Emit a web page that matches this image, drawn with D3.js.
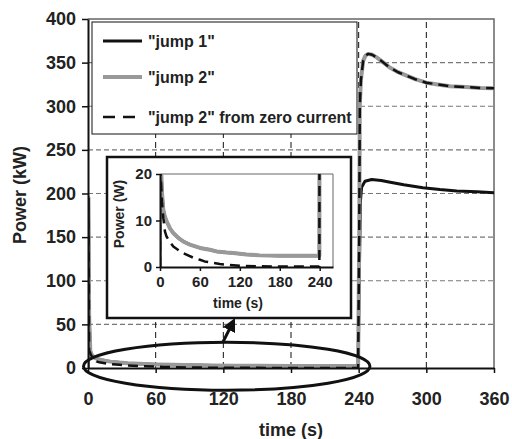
<!DOCTYPE html>
<html>
<head>
<meta charset="utf-8">
<script src="https://cdn.jsdelivr.net/npm/d3@7"></script>
<style>
  body { margin: 0; background: #fff; }
  svg text { font-family: "Liberation Sans", Arial, sans-serif; font-weight: bold; fill: #222; }
</style>
</head>
<body>
<svg id="chart" width="512" height="439"></svg>
<script>
// jump 2 (grey)
var j2Time = [0, 0.4, 1, 2, 3, 5, 7, 10, 15, 20, 28, 35, 45, 60, 75, 85, 100, 110, 130, 150, 180, 210, 239.5,
  240.5, 241, 242, 244, 246, 248.5, 252, 256, 262, 268, 275, 282.5, 290, 300, 310, 321, 335, 348, 360];
var j2Power = [0, 195, 60, 20, 16, 12.3, 11, 9.8, 8.3, 7.3, 6.2, 5.5, 4.8, 4.1, 3.7, 3.35, 3.1, 3.0, 2.7, 2.5, 2.4, 2.4, 2.4,
  150, 300, 330, 352, 358, 360, 359, 356, 350, 344, 339, 335, 331, 327, 325, 323, 322, 321, 320.5];

// jump 1 (black) - sits under jump 2 before 240 s
var j1Time = [0, 0.4, 1, 2, 3, 5, 7, 10, 15, 20, 28, 35, 45, 60, 75, 85, 100, 110, 130, 150, 180, 210, 239.5,
  240.5, 241.5, 242.6, 245.6, 251.5, 260, 268, 280, 297, 312, 327, 345, 360];
var j1Power = [0, 195, 60, 20, 16, 12.3, 11, 9.8, 8.3, 7.3, 6.2, 5.5, 4.8, 4.1, 3.7, 3.35, 3.1, 3.0, 2.7, 2.5, 2.4, 2.4, 2.4,
  100, 190, 207, 214, 216, 215, 213, 210, 206.5, 204.5, 203, 202, 201];

// "jump 2" from zero current (dashed)
var zcTime = [0, 0.4, 1, 3, 5, 7.5, 10, 15, 20, 28, 35, 50, 60, 67, 90, 120, 150, 180, 210, 239.5,
  240.5, 241, 242, 244, 246, 248.5, 252, 256, 262, 268, 275, 282.5, 290, 300, 310, 321, 335, 348, 360];
var zcPower = [0, 195, 20, 14, 10.5, 7.6, 6.5, 5.4, 4.4, 3.6, 3.0, 2.0, 1.56, 1.2, 0.64, 0.25, 0.15, 0.12, 0.1, 0.1,
  150, 300, 330, 352, 358, 360, 359, 356, 350, 344, 339, 335, 331, 327, 325, 323, 322, 321, 320.5];

var xTicks = [0, 60, 120, 180, 240, 300, 360];
var yTicks = [0, 50, 100, 150, 200, 250, 300, 350, 400];
var insetXTicks = [0, 60, 120, 180, 240];
var insetYTicks = [0, 10, 20];
var legendLabels = ['"jump 1"', '"jump 2"', '"jump 2" from zero current'];

var series = [
  { name: legendLabels[0], t: j1Time, p: j1Power, color: "#111", width: 3, dash: null },
  { name: legendLabels[1], t: j2Time, p: j2Power, color: "#999", width: 4, dash: null },
  { name: legendLabels[2], t: zcTime, p: zcPower, color: "#111", width: 2.5, dash: "10,6" }
];

var svg = d3.select("#chart");

var x = d3.scaleLinear().domain([0, 360]).range([88, 494]);
var y = d3.scaleLinear().domain([0, 400]).range([368, 19]);

svg.append("clipPath").attr("id", "mainClip")
  .append("rect").attr("x", x(0)).attr("y", y(400)).attr("width", x(360) - x(0)).attr("height", y(0) - y(400));

// grid
svg.append("g").selectAll("line")
  .data(yTicks.filter(function (d) { return d > 0 && d < 400; }))
  .enter().append("line")
  .attr("x1", x(0)).attr("x2", x(360))
  .attr("y1", function (d) { return y(d); }).attr("y2", function (d) { return y(d); })
  .attr("stroke", "#777").attr("stroke-width", 1.2).attr("stroke-dasharray", "5,3");

svg.append("g").selectAll("line")
  .data(xTicks.filter(function (d) { return d > 0 && d < 360; }))
  .enter().append("line")
  .attr("y1", y(0)).attr("y2", y(400))
  .attr("x1", function (d) { return x(d); }).attr("x2", function (d) { return x(d); })
  .attr("stroke", "#111").attr("stroke-width", 1).attr("stroke-dasharray", "6,4");

// plot border top/right
svg.append("path")
  .attr("d", "M" + x(0) + "," + y(400) + "H" + x(360) + "V" + y(0))
  .attr("fill", "none").attr("stroke", "#666").attr("stroke-width", 1.5);

// legend box
var legend = svg.append("g");
legend.append("rect")
  .attr("x", 92).attr("y", 22).attr("width", 265).attr("height", 112)
  .attr("fill", "#fff").attr("stroke", "#111").attr("stroke-width", 1);
var legendY = [41, 77, 117];
series.forEach(function (s, i) {
  legend.append("line")
    .attr("x1", 103).attr("x2", 142).attr("y1", legendY[i]).attr("y2", legendY[i])
    .attr("stroke", s.color).attr("stroke-width", s.width)
    .attr("stroke-dasharray", s.dash ? "12,8" : null);
  legend.append("text")
    .attr("x", 148).attr("y", legendY[i] + 6)
    .attr("font-size", 16)
    .text(s.name);
});

// inset box
svg.append("rect")
  .attr("x", 107).attr("y", 157).attr("width", 244).attr("height", 161)
  .attr("fill", "#fff").attr("stroke", "#111").attr("stroke-width", 2.5);

// main lines
var mainLines = svg.append("g").attr("clip-path", "url(#mainClip)");
series.forEach(function (s) {
  var line = d3.line()
    .x(function (d, i) { return x(s.t[i]); })
    .y(function (d) { return y(d); });
  mainLines.append("path")
    .attr("d", line(s.p))
    .attr("fill", "none").attr("stroke", s.color).attr("stroke-width", s.width)
    .attr("stroke-linejoin", "round")
    .attr("stroke-dasharray", s.dash);
});

// main axes
var yAxis = svg.append("g").attr("transform", "translate(" + x(0) + ",0)")
  .call(d3.axisLeft(y).tickValues(yTicks).tickSize(6).tickSizeOuter(0).tickPadding(6));
var xAxis = svg.append("g").attr("transform", "translate(0," + y(0) + ")")
  .call(d3.axisBottom(x).tickValues(xTicks).tickSize(5).tickSizeOuter(0).tickPadding(19));
[xAxis, yAxis].forEach(function (a) {
  a.select(".domain").attr("stroke", "#111").attr("stroke-width", 2);
  a.selectAll(".tick line").attr("stroke", "#111").attr("stroke-width", 1.5);
  a.selectAll("text").attr("font-size", 18).attr("fill", "#222")
    .attr("font-family", "Liberation Sans, Arial, sans-serif");
});

svg.append("text")
  .attr("x", (x(0) + x(360)) / 2).attr("y", 436)
  .attr("text-anchor", "middle").attr("font-size", 18)
  .text("time (s)");
svg.append("text")
  .attr("transform", "translate(26,195) rotate(-90)")
  .attr("text-anchor", "middle").attr("font-size", 18)
  .text("Power (kW)");

// inset
var ix = d3.scaleLinear().domain([0, 260]).range([160, 333]);
var iy = d3.scaleLinear().domain([0, 20]).range([267, 174]);

svg.append("clipPath").attr("id", "insetClip")
  .append("rect").attr("x", ix(0)).attr("y", iy(20)).attr("width", ix(260) - ix(0)).attr("height", iy(0) - iy(20));

svg.append("path")
  .attr("d", "M" + ix(0) + "," + iy(20) + "H" + ix(260) + "V" + iy(0))
  .attr("fill", "none").attr("stroke", "#666").attr("stroke-width", 1);

var insetLines = svg.append("g").attr("clip-path", "url(#insetClip)");
series.forEach(function (s) {
  var line = d3.line()
    .x(function (d, i) { return ix(s.t[i]); })
    .y(function (d) { return iy(d); });
  insetLines.append("path")
    .attr("d", line(s.p))
    .attr("fill", "none").attr("stroke", s.color).attr("stroke-width", s.width)
    .attr("stroke-linejoin", "round")
    .attr("stroke-dasharray", s.dash);
});

var iyAxis = svg.append("g").attr("transform", "translate(" + ix(0) + ",0)")
  .call(d3.axisLeft(iy).tickValues(insetYTicks).tickSize(4).tickSizeOuter(0).tickPadding(4));
var ixAxis = svg.append("g").attr("transform", "translate(0," + iy(0) + ")")
  .call(d3.axisBottom(ix).tickValues(insetXTicks).tickSize(4).tickSizeOuter(0).tickPadding(5));
[ixAxis, iyAxis].forEach(function (a) {
  a.select(".domain").attr("stroke", "#111").attr("stroke-width", 2);
  a.selectAll(".tick line").attr("stroke", "#111").attr("stroke-width", 1.5);
  a.selectAll("text").attr("font-size", 15).attr("fill", "#222")
    .attr("font-family", "Liberation Sans, Arial, sans-serif");
});

svg.append("text")
  .attr("x", 238).attr("y", 308)
  .attr("text-anchor", "middle").attr("font-size", 14)
  .text("time (s)");
svg.append("text")
  .attr("transform", "translate(124,214) rotate(-90)")
  .attr("text-anchor", "middle").attr("font-size", 14)
  .text("Power (W)");

// ellipse + arrow annotation
svg.append("ellipse")
  .attr("cx", (x(-4) + x(250)) / 2).attr("cy", y(2))
  .attr("rx", (x(250) - x(-4)) / 2).attr("ry", 24)
  .attr("fill", "none").attr("stroke", "#111").attr("stroke-width", 3);

svg.append("defs").append("marker")
  .attr("id", "arrow").attr("viewBox", "0 0 10 10")
  .attr("refX", 5).attr("refY", 5).attr("markerWidth", 4.5).attr("markerHeight", 4.5)
  .attr("orient", "auto")
  .append("path").attr("d", "M0,0L10,5L0,10z").attr("fill", "#111");
svg.append("line")
  .attr("x1", 223).attr("y1", 342).attr("x2", 232).attr("y2", 324)
  .attr("stroke", "#111").attr("stroke-width", 3)
  .attr("marker-end", "url(#arrow)");
</script>
</body>
</html>
